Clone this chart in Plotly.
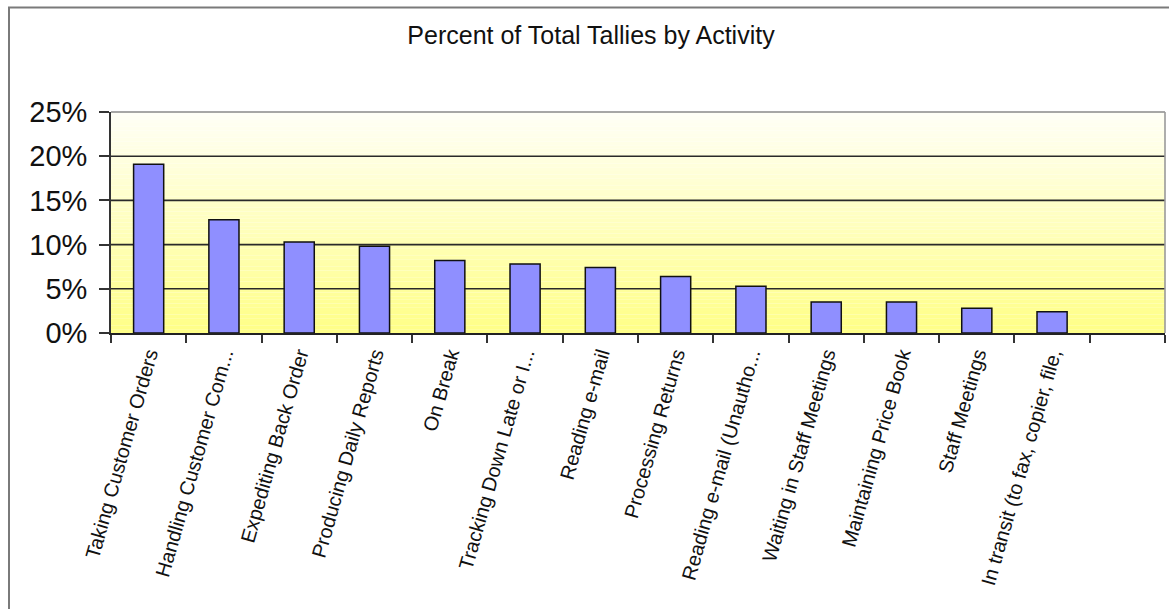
import plotly.graph_objects as go

# ---- data ----
activities = [
    "Taking Customer Orders",
    "Handling Customer Com...",
    "Expediting Back Order",
    "Producing Daily Reports",
    "On Break",
    "Tracking Down Late or I...",
    "Reading e-mail",
    "Processing Returns",
    "Reading e-mail (Unautho...",
    "Waiting in Staff Meetings",
    "Maintaining Price Book",
    "Staff Meetings",
    "In transit (to fax, copier, file,",
]
percent_of_tallies = [19.1, 12.8, 10.3, 9.8, 8.2, 7.8, 7.4, 6.4, 5.3, 3.5, 3.5, 2.8, 2.4]
empty_slot = [" "]  # trailing empty category in the original chart
y_ticks = [0, 5, 10, 15, 20, 25]
y_tick_labels = ["0%", "5%", "10%", "15%", "20%", "25%"]
title_text = "Percent of Total Tallies by Activity"

# ---- layout geometry (pixels) ----
W, H = 1169, 609
L, R, T, B = 111, 4, 112, 276
pw, ph = W - L - R, H - T - B

def px_to_paper_x(px):
    return (px - L) / pw

def px_to_paper_y(py):
    return 1 - (py - T) / ph

fig = go.Figure()
fig.add_trace(go.Bar(
    x=activities,
    y=percent_of_tallies,
    marker=dict(color="#8f8fff", line=dict(color="#111111", width=1.5)),
    width=0.4,
    showlegend=False,
    hoverinfo="x+y",
))

shapes = []
# vertical gradient background of plot area
n = 60
top_c = (255, 255, 246)
bot_c = (255, 255, 135)
for i in range(n):
    f = i / (n - 1)
    c = tuple(round(bot_c[k] + (top_c[k] - bot_c[k]) * f) for k in range(3))
    shapes.append(dict(type="rect", xref="x domain", yref="y domain",
                       x0=0, x1=1, y0=i / n, y1=(i + 1) / n,
                       fillcolor="rgb(%d,%d,%d)" % c, line=dict(width=0),
                       layer="below"))
# horizontal grid lines (inner ticks)
for v in y_ticks[1:-1]:
    shapes.append(dict(type="line", xref="x domain", yref="y",
                       x0=0, x1=1, y0=v, y1=v,
                       line=dict(color="#2a2a2a", width=1.6), layer="below"))
# plot-area border (top & right gray)
shapes.append(dict(type="line", xref="x domain", yref="y domain",
                   x0=0, x1=1, y0=1, y1=1, line=dict(color="#8a8a8a", width=1.6)))
shapes.append(dict(type="line", xref="x domain", yref="y domain",
                   x0=1, x1=1, y0=0, y1=1, line=dict(color="#9a9a9a", width=1.6)))
# outer chart border (cropped at right and bottom)
shapes.append(dict(type="rect", xref="paper", yref="paper",
                   x0=px_to_paper_x(9), x1=px_to_paper_x(W + 20),
                   y0=px_to_paper_y(H + 20), y1=px_to_paper_y(7.5),
                   line=dict(color="#7a7a7a", width=2), fillcolor="rgba(0,0,0,0)"))

fig.update_layout(
    width=W, height=H,
    margin=dict(l=L, r=R, t=T, b=B, pad=0),
    paper_bgcolor="white",
    plot_bgcolor="white",
    font=dict(family="Liberation Sans, Arial, sans-serif", color="#111111"),
    title=dict(text=title_text, x=591 / W, xanchor="center",
               y=1 - 35 / H, yanchor="middle", xref="container", yref="container",
               font=dict(size=25, color="#111111")),
    bargap=0.6,
    shapes=shapes,
    xaxis=dict(
        type="category",
        categoryorder="array",
        categoryarray=activities + empty_slot,
        range=[-0.5, len(activities) + len(empty_slot) - 0.5],
        tickson="boundaries",
        ticks="outside", ticklen=8, tickwidth=1.5, tickcolor="#333333",
        showline=True, linecolor="#222222", linewidth=1.8,
        showgrid=False,
        tickangle=-74,
        tickfont=dict(size=20, color="#111111"),
        automargin=False,
    ),
    yaxis=dict(
        range=[0, 25],
        tickvals=y_ticks, ticktext=y_tick_labels,
        ticks="outside", ticklen=10, tickwidth=1.5, tickcolor="#333333",
        ticklabelstandoff=6,
        showline=True, linecolor="#333333", linewidth=1.8,
        showgrid=False, zeroline=False,
        tickfont=dict(size=29, color="#111111"),
        automargin=False,
    ),
)

fig.write_html("out.html")
